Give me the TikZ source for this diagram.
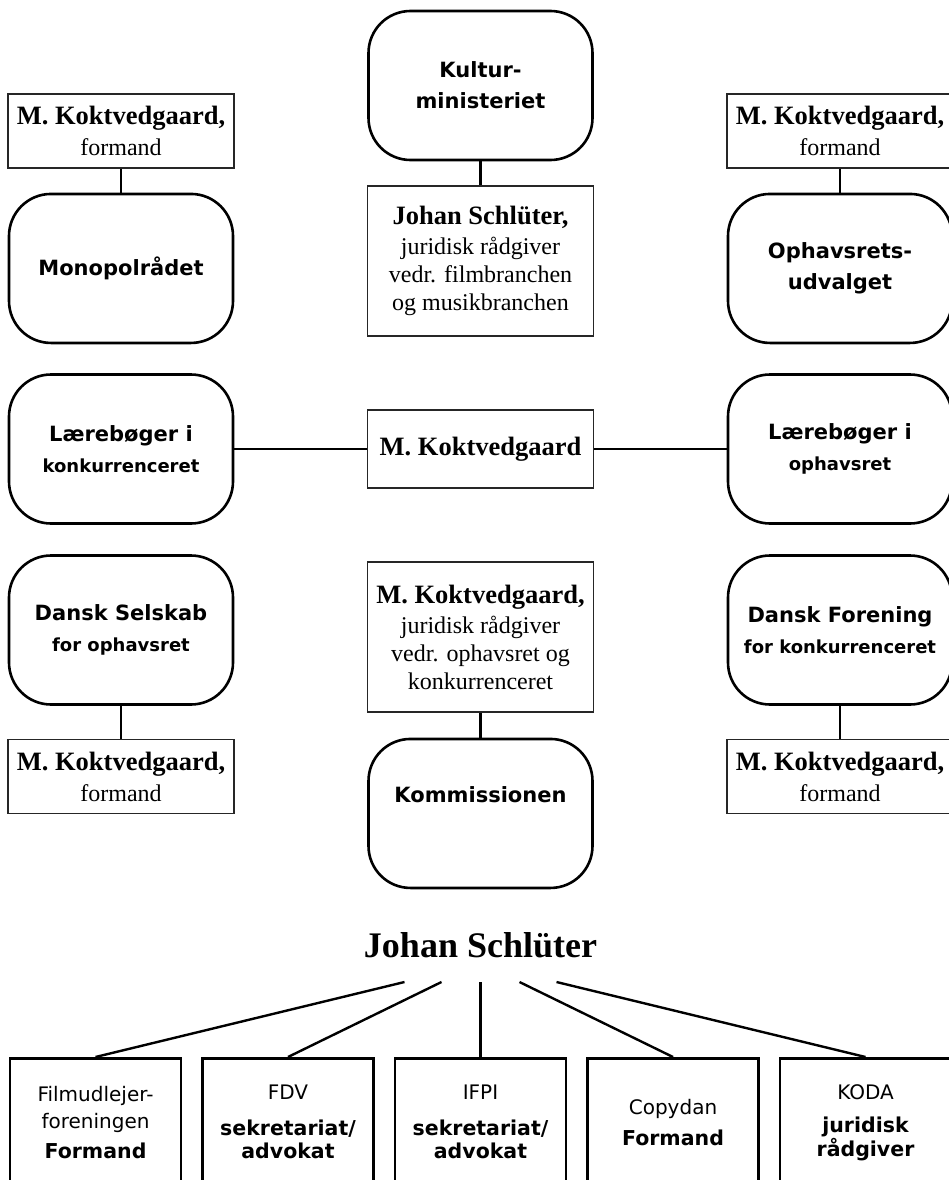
\documentclass[tikz,border=0pt]{standalone}
\usepackage{fontspec}
\setmainfont{Liberation Serif}
\setsansfont{DejaVu Sans}
\usetikzlibrary{positioning,calc}

\newcommand{\pname}[1]{{\bfseries\fontsize{26.5}{31}\selectfont #1}}
\newcommand{\subline}[1]{{\fontsize{18}{22}\selectfont #1}}
\newcommand{\post}[1]{{\bfseries\fontsize{20.5}{24}\selectfont #1}}

\begin{document}
\begin{tikzpicture}[
    x=1pt, y=-1pt,
    org/.style={rectangle, draw, line width=2.6pt, rounded corners=42pt, minimum width=224pt, minimum height=149pt, align=center, font=\sffamily\bfseries\fontsize{21}{31}\selectfont},
    pers/.style={rectangle, draw=black!85, line width=1.3pt, minimum width=226pt, align=center, inner sep=0pt, font=\fontsize{24}{28}\selectfont},
    unit/.style={rectangle, draw, line width=2.6pt, minimum width=171pt, minimum height=128pt, anchor=north, align=center, inner sep=0pt, font=\sffamily\fontsize{20}{27}\selectfont},
    link/.style={line width=2.4pt}
]
    \useasboundingbox (0,0) rectangle (948,1180);

    % top row
    \node[org] (kultur) at (480.5,85.5) {Kultur-\\ministeriet};
    \node[pers, minimum height=150pt, below=24pt of kultur] (jsraad) {\pname{Johan Schlüter,}\\[2pt] juridisk rådgiver\\vedr. filmbranchen\\og musikbranchen};
    \node[pers, minimum height=74pt] (fml) at (121,131) {\pname{M. Koktvedgaard,}\\[3pt] formand};
    \node[org, below=24pt of fml] (mono) {Monopolrådet};
    \node[pers, minimum height=74pt] (fmr) at (840,131) {\pname{M. Koktvedgaard,}\\[3pt] formand};
    \node[org, below=24pt of fmr] (ophav) {Ophavsrets-\\udvalget};

    % middle row
    \node[org] (laerk) at (121,449) {Lærebøger i\\\subline{konkurrenceret}};
    \node[pers, minimum height=78pt, font=\bfseries\fontsize{26.5}{31}\selectfont] (mk) at (480.5,449) {M. Koktvedgaard};
    \node[org] (laero) at (840,449) {Lærebøger i\\\subline{ophavsret}};

    % lower row
    \node[org] (dansel) at (121,630) {Dansk Selskab\\\subline{for ophavsret}};
    \node[pers, minimum height=74pt, below=33pt of dansel] (fmdl) {\pname{M. Koktvedgaard,}\\[3pt] formand};
    \node[pers, minimum height=150pt] (mkraad) at (480.5,637) {\pname{M. Koktvedgaard,}\\[2pt] juridisk rådgiver\\vedr. ophavsret og\\konkurrenceret};
    \node[org, text depth=37pt, below=25pt of mkraad] (komm) {Kommissionen};
    \node[org] (dansfor) at (840,630) {Dansk Forening\\\subline{for konkurrenceret}};
    \node[pers, minimum height=74pt, below=33pt of dansfor] (fmdr) {\pname{M. Koktvedgaard,}\\[3pt] formand};

    \draw[link] (kultur) -- (jsraad);
    \draw[link] (fml) -- (mono);
    \draw[link] (fmr) -- (ophav);
    \draw[link] (laerk) -- (mk);
    \draw[link] (mk) -- (laero);
    \draw[link] (dansel) -- (fmdl);
    \draw[link] (mkraad) -- (komm);
    \draw[link] (dansfor) -- (fmdr);

    % Johan Schlueter and his posts
    \node[font=\bfseries\fontsize{36}{40}\selectfont, anchor=base] (js) at (480.5,957) {Johan Schlüter};
    \node[unit] (u1) at (95.5,1057) {Filmudlejer-\\foreningen\\[3pt]\post{Formand}};
    \node[unit, right=18.9pt of u1] (u2) {FDV\\[9pt]\post{sekretariat/}\\[-4pt]\post{advokat}};
    \node[unit, right=18.9pt of u2] (u3) {IFPI\\[9pt]\post{sekretariat/}\\[-4pt]\post{advokat}};
    \node[unit, right=18.9pt of u3] (u4) {Copydan\\[4pt]\post{Formand}};
    \node[unit, right=18.9pt of u4] (u5) {KODA\\[6pt]\post{juridisk}\\[-3pt]\post{rådgiver}};

    \foreach \i/\dx in {1/-76,2/-39,3/0,4/39,5/76}
        \coordinate (j\i) at ($(js.base)+(\dx,25)$);
    \foreach \i in {1,...,5}
        \draw[link] (j\i) -- (u\i.north);
\end{tikzpicture}
\end{document}
